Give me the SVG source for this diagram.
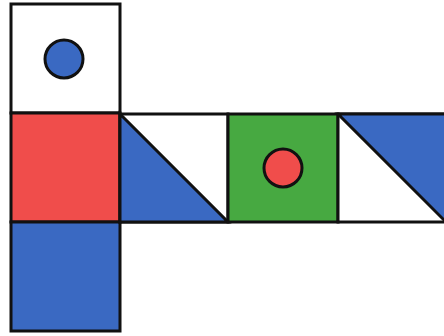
<svg xmlns="http://www.w3.org/2000/svg" width="444" height="336" viewBox="0 0 444 336">
<style>
.e{stroke:#111;stroke-width:3;stroke-linejoin:miter}
.w{fill:#fff}
.r{fill:#f04d4b}
.b{fill:#3a69c2}
.g{fill:#47a941}
</style>
<rect width="444" height="336" fill="#fff"/>
<g id="face-top">
<rect class="e w" x="11" y="4" width="109" height="109"/>
<circle class="e b" cx="64" cy="59" r="19"/>
</g>
<g id="face-red">
<rect class="e r" x="11" y="113" width="109" height="109"/>
</g>
<g id="face-bottom">
<rect class="e b" x="11" y="222" width="109" height="109"/>
</g>
<g id="face-tri1">
<rect class="e w" x="120" y="114" width="108" height="108"/>
<polygon class="e b" points="120,114 228,222 120,222"/>
</g>
<g id="face-green">
<rect class="e g" x="228" y="114" width="110" height="108"/>
<circle class="e r" cx="283" cy="168" r="19"/>
</g>
<g id="face-tri2">
<rect class="e w" x="338" y="114" width="110" height="108"/>
<polygon class="e b" points="338,114 448,114 448,224"/>
</g>
<g id="connectors"></g>
</svg>
